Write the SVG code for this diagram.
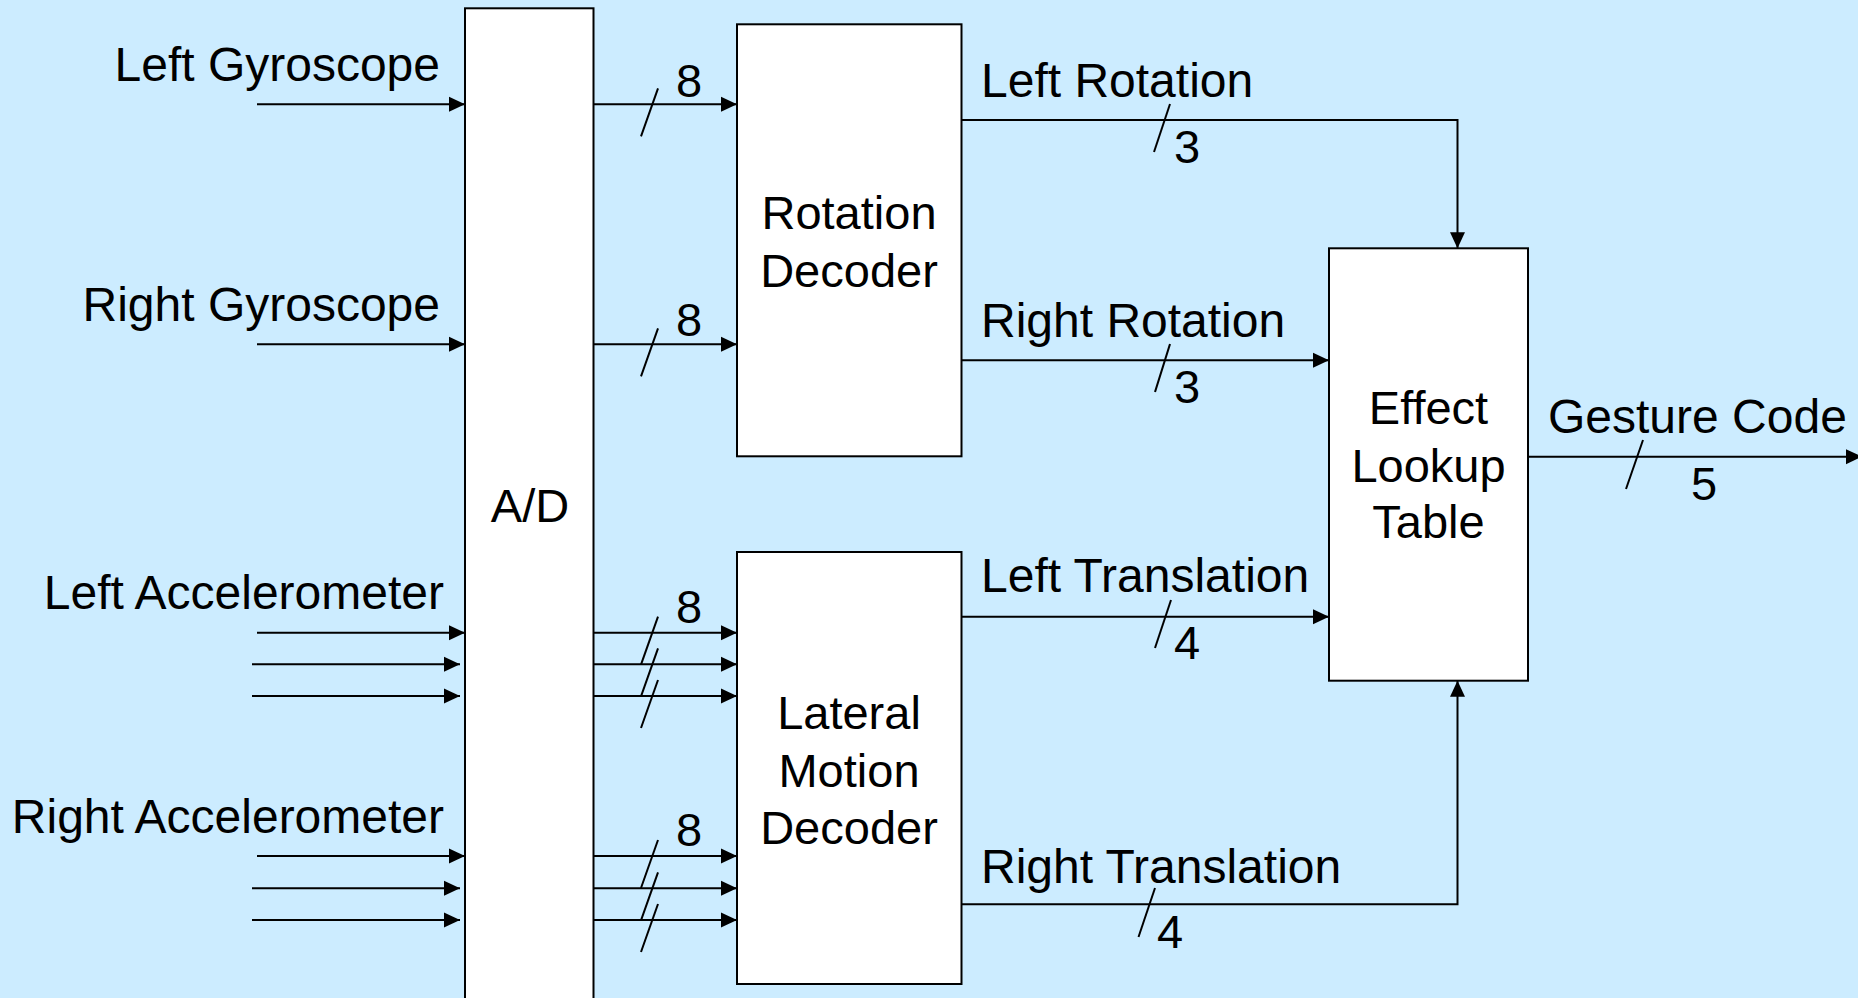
<svg xmlns="http://www.w3.org/2000/svg" width="1858" height="998" viewBox="0 0 1858 998">
<defs>
<marker id="arr" markerUnits="userSpaceOnUse" viewBox="0 0 16 16" refX="16" refY="8" markerWidth="16" markerHeight="16" orient="auto">
<path d="M0,0.5 L16,8 L0,15.5 Z" fill="#000"/>
</marker>
<style>
.box{fill:#fff;stroke:#000;stroke-width:2}
.t{font-family:"Liberation Sans",Arial,sans-serif;font-size:47px;fill:#000}
.l{font-size:48px}
.c{text-anchor:middle}
.e{text-anchor:end}
.w{fill:none;stroke:#000;stroke-width:2}
.a{fill:none;stroke:#000;stroke-width:2;marker-end:url(#arr)}
</style>
</defs>
<rect x="0" y="0" width="1858" height="998" fill="#CCECFF"/>

<g id="ad">
<rect class="box" x="465" y="8.3" width="128.5" height="1000"/>
<text class="t c" x="530" y="521.7">A/D</text>
</g>
<g id="rotation-decoder">
<rect class="box" x="737" y="24.3" width="224.5" height="432"/>
<text class="t c" x="849" y="229.3">Rotation</text>
<text class="t c" x="849" y="287">Decoder</text>
</g>
<g id="lateral-motion-decoder">
<rect class="box" x="737" y="552" width="224.5" height="432"/>
<text class="t c" x="849" y="729">Lateral</text>
<text class="t c" x="849" y="786.7">Motion</text>
<text class="t c" x="849" y="844">Decoder</text>
</g>
<g id="effect-lookup-table">
<rect class="box" x="1329" y="248.3" width="199" height="432.4"/>
<text class="t c" x="1428.5" y="424">Effect</text>
<text class="t c" x="1428.5" y="481.7">Lookup</text>
<text class="t c" x="1428.5" y="538">Table</text>
</g>

<g id="input-labels">
<text class="t l e" x="440" y="81">Left Gyroscope</text>
<text class="t l e" x="440" y="321">Right Gyroscope</text>
<text class="t l e" x="444" y="609">Left Accelerometer</text>
<text class="t l e" x="444" y="833">Right Accelerometer</text>
</g>

<g id="connectors">
<line class="a" x1="257" y1="104.3" x2="465" y2="104.3"/>
<line class="a" x1="257" y1="344.3" x2="465" y2="344.3"/>
<line class="a" x1="257" y1="632.7" x2="465" y2="632.7"/>
<line class="a" x1="252" y1="664.3" x2="460" y2="664.3"/>
<line class="a" x1="252" y1="696" x2="460" y2="696"/>
<line class="a" x1="257" y1="856" x2="465" y2="856"/>
<line class="a" x1="252" y1="888.3" x2="460" y2="888.3"/>
<line class="a" x1="252" y1="920" x2="460" y2="920"/>

<line class="a" x1="593.5" y1="104.3" x2="737" y2="104.3"/>
<line class="a" x1="593.5" y1="344.3" x2="737" y2="344.3"/>
<line class="a" x1="593.5" y1="632.7" x2="737" y2="632.7"/>
<line class="a" x1="593.5" y1="664.3" x2="737" y2="664.3"/>
<line class="a" x1="593.5" y1="696" x2="737" y2="696"/>
<line class="a" x1="593.5" y1="856" x2="737" y2="856"/>
<line class="a" x1="593.5" y1="888.3" x2="737" y2="888.3"/>
<line class="a" x1="593.5" y1="920" x2="737" y2="920"/>

<path class="a" d="M961.5,120 H1457.5 V248.3"/>
<path class="a" d="M961.5,360.3 H1329"/>
<path class="a" d="M961.5,616.7 H1329"/>
<path class="a" d="M961.5,904.3 H1457.5 V680.7"/>
<path class="a" d="M1528,456.7 H1862"/>

<g id="bus-slashes">
<line class="w" x1="641" y1="136.3" x2="658" y2="88.3"/>
<line class="w" x1="641" y1="376.3" x2="658" y2="328.3"/>
<line class="w" x1="641" y1="664.7" x2="658" y2="616.7"/>
<line class="w" x1="641" y1="696.3" x2="658" y2="648.3"/>
<line class="w" x1="641" y1="728" x2="658" y2="680"/>
<line class="w" x1="641" y1="888" x2="658" y2="840"/>
<line class="w" x1="641" y1="920.3" x2="658" y2="872.3"/>
<line class="w" x1="641" y1="952" x2="658" y2="904"/>
<line class="w" x1="1154" y1="152" x2="1170" y2="104"/>
<line class="w" x1="1155" y1="392" x2="1170" y2="344"/>
<line class="w" x1="1155" y1="648" x2="1171" y2="600"/>
<line class="w" x1="1138.5" y1="937" x2="1155" y2="888"/>
<line class="w" x1="1626" y1="489" x2="1643" y2="440"/>
</g>
</g>

<g id="connector-labels">
<text class="t" x="676" y="96.7">8</text>
<text class="t" x="676" y="335.5">8</text>
<text class="t" x="676" y="623">8</text>
<text class="t" x="676" y="846">8</text>
<text class="t l" x="981" y="96.7">Left Rotation</text>
<text class="t" x="1174" y="163">3</text>
<text class="t l" x="981" y="337">Right Rotation</text>
<text class="t" x="1174" y="403">3</text>
<text class="t l" x="981" y="592">Left Translation</text>
<text class="t" x="1174" y="659">4</text>
<text class="t l" x="981" y="883">Right Translation</text>
<text class="t" x="1157" y="947.7">4</text>
<text class="t l" x="1548" y="432.7">Gesture Code</text>
<text class="t" x="1691" y="500">5</text>
</g>
</svg>
